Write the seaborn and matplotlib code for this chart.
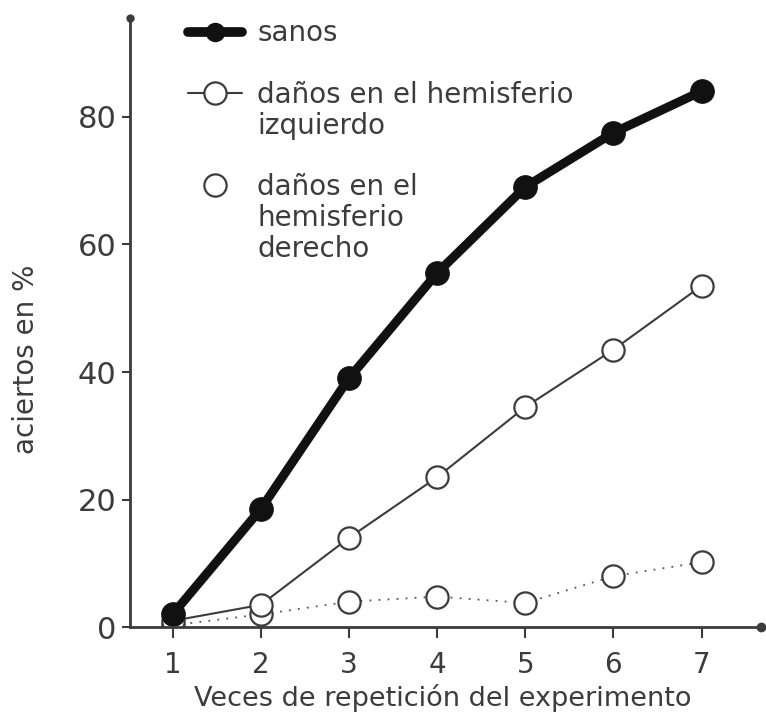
import pandas as pd
import matplotlib.pyplot as plt
from matplotlib.lines import Line2D
import seaborn as sns

# datos
repeticiones = [1, 2, 3, 4, 5, 6, 7]
sanos = [2, 18.5, 39, 55.5, 69, 77.5, 84]
izquierdo = [1, 3.5, 14, 23.5, 34.5, 43.5, 53.5]
derecho = [0.3, 2, 4, 4.8, 3.8, 8, 10.2]

grupos = ["sanos", "izquierdo", "derecho"]
# texto de la leyenda, una fila por renglón ("" = renglón en blanco)
filas_leyenda = [
    "sanos",
    "",
    "daños en el hemisferio",
    "izquierdo",
    "",
    "daños en el",
    "hemisferio",
    "derecho",
]
ticks_y = [0, 20, 40, 60, 80]

df = pd.DataFrame({
    "repeticion": repeticiones * 3,
    "aciertos": sanos + izquierdo + derecho,
    "grupo": [grupos[0]] * 7 + [grupos[1]] * 7 + [grupos[2]] * 7,
})

sns.set_theme(style="white")
plt.rcParams["font.family"] = ["DejaVu Sans"]

gris = "#3c3c3c"
negro = "#111111"

fig = plt.figure(figsize=(7.66, 7.16), dpi=100)
ax = fig.add_axes([0.17, 0.124, 0.823, 0.851])

# derecho: línea punteada con círculos abiertos
d = df[df["grupo"] == "derecho"]
sns.lineplot(data=d, x="repeticion", y="aciertos", ax=ax, color="#555555",
             linestyle=(0, (1, 4)), linewidth=1.3, marker="o", markersize=16,
             markerfacecolor="white", markeredgecolor=gris, markeredgewidth=1.6,
             legend=False)

# izquierdo: línea fina con círculos abiertos
i = df[df["grupo"] == "izquierdo"]
sns.lineplot(data=i, x="repeticion", y="aciertos", ax=ax, color=gris,
             linewidth=1.5, marker="o", markersize=16,
             markerfacecolor="white", markeredgecolor=gris, markeredgewidth=1.6,
             legend=False)

# sanos: línea gruesa negra
s = df[df["grupo"] == "sanos"]
sns.lineplot(data=s, x="repeticion", y="aciertos", ax=ax, color=negro,
             linewidth=6.5, marker="o", markersize=17,
             markerfacecolor=negro, markeredgecolor=negro,
             legend=False)

ax.set_xlim(0.52, 7.67)
ax.set_ylim(0, 95.5)
ax.set_xticks(repeticiones)
ax.set_yticks(ticks_y)

for lado in ["top", "right"]:
    ax.spines[lado].set_visible(False)
for lado in ["left", "bottom"]:
    ax.spines[lado].set_color(gris)
    ax.spines[lado].set_linewidth(2)

# puntitos al final de los ejes
ax.plot(1, 0, "o", color=gris, markersize=6, transform=ax.transAxes, clip_on=False)
ax.plot(0, 1, "o", color=gris, markersize=5, transform=ax.transAxes, clip_on=False)

ax.tick_params(axis="both", colors=gris, direction="out", length=8, width=1.5)
ax.tick_params(axis="x", labelsize=20, pad=9)
ax.tick_params(axis="y", labelsize=22, pad=4, length=6)
ax.xaxis.set_ticks_position("bottom")
ax.yaxis.set_ticks_position("left")

ax.set_xlabel("Veces de repetición del experimento", fontsize=19.5, color=gris)
ax.set_ylabel("aciertos en %", fontsize=20, color=gris)
ax.xaxis.set_label_coords(0.495, -0.094)
ax.yaxis.set_label_coords(-0.143, 0.44)

vacio = Line2D([], [], linestyle="none")
manijas = [
    Line2D([], [], color=negro, linewidth=7, marker="o", markersize=13),
    vacio,
    Line2D([], [], color=gris, linewidth=1.5, marker="o", markersize=16,
           markerfacecolor="white", markeredgecolor=gris, markeredgewidth=1.6),
    vacio,
    vacio,
    Line2D([], [], linestyle="none", marker="o", markersize=16,
           markerfacecolor="white", markeredgecolor=gris, markeredgewidth=1.6),
    vacio,
    vacio,
]
ley = ax.legend(manijas, filas_leyenda, loc="upper left", bbox_to_anchor=(0.245, 0.973),
                bbox_transform=fig.transFigure, frameon=False, fontsize=20,
                handlelength=1.95, handletextpad=0.55, labelspacing=0.1,
                borderpad=0, borderaxespad=0)
for t in ley.get_texts():
    t.set_color(gris)

fig.savefig("out.png", dpi=100)
